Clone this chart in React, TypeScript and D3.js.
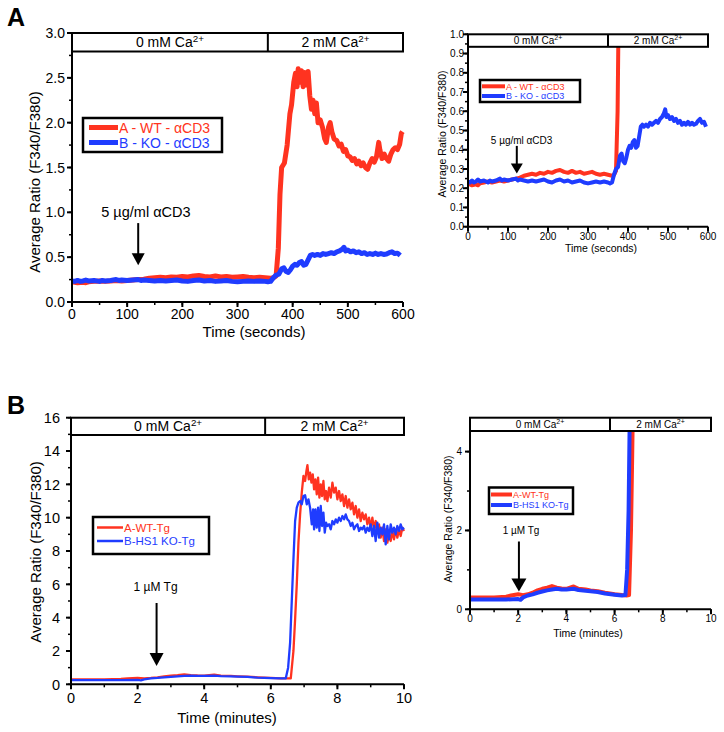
import React from 'react';
import * as d3 from 'd3';

type Pt = [number, number];

const RED = '#ff3320';
const BLUE = '#1f3cff';
const FONT = '"Liberation Sans", Arial, Helvetica, sans-serif';

// ---------- Panel A data (time in seconds, ratio) ----------
const aWT: Pt[] = [
  [0, 0.23], [5, 0.22], [10, 0.215], [20, 0.22], [25, 0.215], [30, 0.225], [40, 0.23], [50, 0.235],
  [60, 0.23], [70, 0.235], [80, 0.24], [90, 0.235], [100, 0.24], [110, 0.245], [120, 0.25], [130, 0.255],
  [140, 0.265], [150, 0.27], [160, 0.275], [170, 0.27], [180, 0.28], [190, 0.275], [200, 0.285], [210, 0.28],
  [220, 0.29], [230, 0.295], [240, 0.285], [250, 0.28], [260, 0.29], [270, 0.28], [280, 0.285], [290, 0.275],
  [300, 0.28], [310, 0.285], [320, 0.275], [330, 0.27], [340, 0.275], [350, 0.27], [360, 0.265], [365, 0.27],
  [370, 0.29], [374, 0.6], [377, 1.2], [380, 1.5], [385, 1.55], [390, 1.75], [395, 2.1], [398, 2.2],
  [402, 2.45], [405, 2.55], [408, 2.4], [410, 2.6], [413, 2.45], [416, 2.58], [419, 2.4], [422, 2.56],
  [425, 2.42], [428, 2.57], [431, 2.3], [434, 2.15], [437, 2.25], [440, 2.1], [443, 2.22], [446, 2.0],
  [450, 2.03], [454, 1.95], [458, 1.82], [461, 1.78], [465, 1.95], [468, 2.0], [471, 1.9], [475, 1.82],
  [480, 1.8], [484, 1.74], [488, 1.76], [492, 1.68], [496, 1.7], [500, 1.63], [504, 1.62], [508, 1.58],
  [512, 1.6], [516, 1.54], [520, 1.57], [524, 1.52], [528, 1.55], [532, 1.5], [536, 1.48], [540, 1.55],
  [544, 1.6], [548, 1.56], [552, 1.62], [556, 1.78], [558, 1.7], [562, 1.6], [566, 1.65], [570, 1.6],
  [574, 1.57], [578, 1.65], [582, 1.7], [586, 1.72], [590, 1.7], [594, 1.76], [597, 1.88], [599, 1.9],
];

const aKO: Pt[] = [
  [0, 0.235], [5, 0.23], [10, 0.24], [15, 0.23], [20, 0.235], [25, 0.245], [30, 0.235], [40, 0.24],
  [50, 0.23], [55, 0.24], [60, 0.235], [70, 0.24], [80, 0.25], [85, 0.24], [90, 0.245], [100, 0.24],
  [110, 0.245], [120, 0.25], [125, 0.24], [130, 0.245], [140, 0.24], [150, 0.235], [160, 0.24], [170, 0.235],
  [180, 0.24], [190, 0.245], [200, 0.235], [210, 0.23], [220, 0.24], [230, 0.245], [240, 0.235], [250, 0.24],
  [260, 0.23], [270, 0.235], [280, 0.24], [290, 0.23], [300, 0.225], [310, 0.23], [320, 0.235], [330, 0.23],
  [340, 0.235], [350, 0.23], [355, 0.225], [360, 0.23], [365, 0.27], [370, 0.3], [375, 0.31], [380, 0.37],
  [384, 0.38], [388, 0.34], [392, 0.33], [396, 0.36], [400, 0.4], [404, 0.42], [408, 0.41], [412, 0.44],
  [416, 0.45], [420, 0.41], [424, 0.42], [428, 0.47], [432, 0.52], [436, 0.53], [440, 0.52], [445, 0.53],
  [450, 0.52], [455, 0.54], [460, 0.53], [465, 0.54], [470, 0.55], [475, 0.54], [480, 0.56], [485, 0.57],
  [490, 0.59], [493, 0.61], [496, 0.57], [500, 0.58], [505, 0.56], [510, 0.57], [515, 0.55], [520, 0.56],
  [525, 0.54], [530, 0.55], [535, 0.53], [540, 0.54], [545, 0.53], [550, 0.545], [555, 0.53], [560, 0.54],
  [565, 0.53], [570, 0.535], [575, 0.55], [580, 0.56], [585, 0.54], [590, 0.545], [595, 0.52],
];

// ---------- Panel B data (time in minutes, ratio) ----------
const bWT: Pt[] = [
  [0, 0.3], [0.5, 0.3], [1.0, 0.3], [1.5, 0.32], [1.7, 0.35], [2.0, 0.38], [2.2, 0.36], [2.4, 0.38],
  [2.6, 0.42], [2.8, 0.48], [3.0, 0.52], [3.2, 0.55], [3.4, 0.59], [3.6, 0.55], [3.8, 0.53], [4.0, 0.52],
  [4.3, 0.58], [4.5, 0.52], [4.8, 0.5], [5.0, 0.48], [5.3, 0.46], [5.6, 0.42], [6.0, 0.38], [6.3, 0.36],
  [6.5, 0.35], [6.6, 0.36], [6.68, 2.0], [6.73, 3.9], [6.78, 6.0], [6.83, 8.5], [6.88, 10.2], [6.93, 11.5],
  [6.98, 12.5], [7.03, 12.2], [7.07, 12.8], [7.1, 13.15], [7.14, 12.3], [7.18, 12.7], [7.22, 12.1], [7.26, 12.6],
  [7.3, 11.7], [7.34, 12.3], [7.38, 11.4], [7.42, 12.4], [7.46, 11.2], [7.5, 12.0], [7.54, 11.3], [7.58, 12.2],
  [7.62, 11.1], [7.66, 11.6], [7.7, 11.0], [7.75, 11.8], [7.8, 11.2], [7.85, 12.1], [7.9, 11.5], [7.95, 11.8],
  [8.0, 11.1], [8.05, 11.6], [8.1, 11.0], [8.15, 11.4], [8.2, 10.7], [8.25, 11.3], [8.3, 10.6], [8.35, 11.1],
  [8.4, 10.5], [8.45, 10.9], [8.5, 10.2], [8.55, 10.7], [8.6, 10.0], [8.65, 10.5], [8.7, 9.8], [8.75, 10.3],
  [8.8, 9.9], [8.85, 10.2], [8.9, 9.6], [8.95, 10.0], [9.0, 9.4], [9.05, 10.0], [9.1, 9.3], [9.15, 9.8],
  [9.2, 9.1], [9.25, 9.6], [9.3, 8.8], [9.35, 9.4], [9.4, 8.6], [9.45, 9.3], [9.5, 8.5], [9.55, 9.0],
  [9.6, 8.6], [9.65, 9.2], [9.7, 8.7], [9.75, 9.3], [9.8, 8.8], [9.85, 9.3], [9.9, 8.9], [9.95, 9.4], [10.0, 9.2],
];

const bKO: Pt[] = [
  [0, 0.25], [0.5, 0.25], [1.0, 0.25], [1.5, 0.25], [2.0, 0.26], [2.1, 0.24], [2.2, 0.3], [2.4, 0.35],
  [2.6, 0.38], [2.8, 0.42], [3.0, 0.45], [3.2, 0.48], [3.4, 0.5], [3.6, 0.52], [3.8, 0.5], [4.0, 0.5],
  [4.3, 0.52], [4.5, 0.49], [4.8, 0.47], [5.0, 0.46], [5.3, 0.44], [5.6, 0.4], [6.0, 0.37], [6.3, 0.35],
  [6.45, 0.36], [6.52, 1.0], [6.58, 2.5], [6.63, 5.0], [6.68, 7.5], [6.73, 9.8], [6.78, 10.6], [6.83, 10.9],
  [6.88, 11.0], [6.93, 10.8], [6.98, 11.3], [7.03, 11.35], [7.08, 10.8], [7.13, 11.1], [7.18, 10.6], [7.23, 9.6],
  [7.27, 10.5], [7.3, 9.3], [7.34, 10.5], [7.38, 9.4], [7.42, 10.6], [7.46, 9.2], [7.5, 10.7], [7.54, 9.5],
  [7.58, 10.3], [7.62, 9.1], [7.66, 9.7], [7.7, 9.5], [7.75, 9.6], [7.8, 9.3], [7.85, 9.8], [7.9, 9.6],
  [7.95, 9.9], [8.0, 9.7], [8.05, 10.0], [8.1, 9.8], [8.15, 10.1], [8.2, 9.9], [8.25, 10.2], [8.3, 9.9],
  [8.35, 9.8], [8.4, 9.5], [8.45, 9.7], [8.5, 9.3], [8.55, 9.5], [8.6, 9.6], [8.65, 9.2], [8.7, 9.4],
  [8.75, 9.3], [8.8, 9.5], [8.85, 9.1], [8.9, 9.4], [8.95, 9.2], [9.0, 9.6], [9.05, 8.9], [9.1, 9.5],
  [9.15, 8.6], [9.2, 9.7], [9.25, 8.8], [9.3, 9.4], [9.35, 9.0], [9.4, 9.6], [9.45, 8.4], [9.5, 9.5],
  [9.55, 8.7], [9.6, 9.6], [9.65, 9.1], [9.7, 9.4], [9.75, 9.0], [9.8, 9.5], [9.85, 9.2], [9.9, 9.6],
  [9.95, 9.3], [10.0, 9.4],
];

// ---------- Tick labels & text ----------
const secTicks = [0, 100, 200, 300, 400, 500, 600];
const minTicks = [0, 2, 4, 6, 8, 10];
const aMainYTicks = [0, 0.5, 1.0, 1.5, 2.0, 2.5, 3.0];
const aInsetYTicks = [0, 0.1, 0.2, 0.3, 0.4, 0.5, 0.6, 0.7, 0.8, 0.9, 1.0];
const bMainYTicks = [0, 2, 4, 6, 8, 10, 12, 14, 16];
const bInsetYTicks = [0, 2, 4];
const aLegend = ['A - WT - \u03B1CD3', 'B - KO - \u03B1CD3'];
const bLegend = ['A-WT-Tg', 'B-HS1 KO-Tg'];
const aNote = '5 \u00B5g/ml \u03B1CD3';
const bNote = '1 \u00B5M Tg';
const yTitle = 'Average Ratio (F340/F380)';
const phases = ['0 mM Ca', '2 mM Ca'];

interface Cfg {
  x0: number; x1: number; y0: number; y1: number;
  xDom: [number, number]; yDom: [number, number];
  xTicks: number[]; yTicks: number[]; xMinor: number; yMinor: number;
  yFmt: (v: number) => string;
  headerH: number; divider: number; headerFont: number;
  lineW: number; tickFont: number; titleFont: number;
  yLabelX: number; xLabelY: number;
  xTitle: string; xTitleX: number; xTitleY: number; yTitleX: number; yTitleY: number;
  red: Pt[]; blue: Pt[];
  legend: string[]; legBox: [number, number, number, number]; legRows: [number, number];
  legLine: [number, number]; legFont: number; legLineW: number;
  note: string; noteX: number; noteV: number; noteFont: number;
  arrowT: number; arrowTop: number; arrowBot: number; headW: number; headH: number;
  id: string;
}

function Panel({ c }: { c: Cfg }) {
  const x = d3.scaleLinear().domain(c.xDom).range([c.x0, c.x1]);
  const y = d3.scaleLinear().domain(c.yDom).range([c.y0, c.y1]);
  const line = d3.line<Pt>().x(d => x(d[0])).y(d => y(d[1])).curve(d3.curveLinear);
  const xMinorTicks = d3.range(c.xDom[0], c.xDom[1] + 1e-9, c.xMinor);
  const yMinorTicks = d3.range(c.yDom[0], c.yDom[1] + 1e-9, c.yMinor);
  const hb = c.y1 + c.headerH;
  const dx = x(c.divider);
  const ax = x(c.arrowT);
  const aTop = y(c.arrowTop);
  const aBot = y(c.arrowBot);
  const [bx, by, bw, bh] = c.legBox;
  const sup = (txt: string, cx: number) => (
    <text x={cx} y={c.y1 + c.headerH * 0.78} textAnchor="middle" fontSize={c.headerFont} fontFamily={FONT}>
      <tspan>{txt}</tspan>
      <tspan dy={-c.headerFont * 0.4} fontSize={c.headerFont * 0.7}>2+</tspan>
    </text>
  );
  return (
    <g>
      <defs>
        <clipPath id={c.id}>
          <rect x={c.x0} y={hb} width={c.x1 - c.x0 + 3} height={c.y0 - hb} />
        </clipPath>
      </defs>
      <g clipPath={`url(#${c.id})`}>
        <path d={line(c.red) || ''} fill="none" stroke={RED} strokeWidth={c.lineW} strokeLinejoin="round" />
        <path d={line(c.blue) || ''} fill="none" stroke={BLUE} strokeWidth={c.lineW} strokeLinejoin="round" />
      </g>
      {/* header band */}
      <rect x={c.x0} y={c.y1} width={c.x1 - c.x0} height={c.headerH} fill="white" stroke="black" strokeWidth={2} />
      <line x1={dx} x2={dx} y1={c.y1} y2={hb} stroke="black" strokeWidth={2} />
      {sup(phases[0], (c.x0 + dx) / 2)}
      {sup(phases[1], (dx + c.x1) / 2)}
      {/* axes */}
      <line x1={c.x0} x2={c.x0} y1={c.y0} y2={c.y1} stroke="black" strokeWidth={2} />
      <line x1={c.x0} x2={c.x1} y1={c.y0} y2={c.y0} stroke="black" strokeWidth={2} />
      {xMinorTicks.map((t, i) => (
        <line key={'xm' + i} x1={x(t)} x2={x(t)} y1={c.y0} y2={c.y0 + 3} stroke="black" strokeWidth={1.5} />
      ))}
      {yMinorTicks.map((t, i) => (
        <line key={'ym' + i} x1={c.x0 - 3} x2={c.x0} y1={y(t)} y2={y(t)} stroke="black" strokeWidth={1.5} />
      ))}
      {c.xTicks.map((t, i) => (
        <g key={'xt' + i}>
          <line x1={x(t)} x2={x(t)} y1={c.y0} y2={c.y0 + 5} stroke="black" strokeWidth={2} />
          <text x={x(t)} y={c.xLabelY} textAnchor="middle" fontSize={c.tickFont} fontFamily={FONT}>{t}</text>
        </g>
      ))}
      {c.yTicks.map((t, i) => (
        <g key={'yt' + i}>
          <line x1={c.x0 - 5} x2={c.x0} y1={y(t)} y2={y(t)} stroke="black" strokeWidth={2} />
          <text x={c.yLabelX} y={y(t)} dy="0.36em" textAnchor="end" fontSize={c.tickFont} fontFamily={FONT}>{c.yFmt(t)}</text>
        </g>
      ))}
      <text x={c.xTitleX} y={c.xTitleY} textAnchor="middle" fontSize={c.titleFont} fontFamily={FONT}>{c.xTitle}</text>
      <text transform={`translate(${c.yTitleX},${c.yTitleY}) rotate(-90)`} textAnchor="middle" dy="0.36em"
        fontSize={c.titleFont} fontFamily={FONT}>{yTitle}</text>
      {/* legend */}
      <rect x={bx} y={by} width={bw} height={bh} fill="white" stroke="black" strokeWidth={2.5} />
      {c.legend.map((s, i) => (
        <g key={'lg' + i}>
          <line x1={c.legLine[0]} x2={c.legLine[1]} y1={c.legRows[i]} y2={c.legRows[i]}
            stroke={i === 0 ? RED : BLUE} strokeWidth={c.legLineW} />
          <text x={c.legLine[1] + 1} y={c.legRows[i]} dy="0.36em" fontSize={c.legFont} fontFamily={FONT}
            fill={i === 0 ? RED : BLUE}>{s}</text>
        </g>
      ))}
      {/* annotation */}
      <text x={x(c.noteX)} y={y(c.noteV)} textAnchor="middle" fontSize={c.noteFont} fontFamily={FONT}>{c.note}</text>
      <line x1={ax} x2={ax} y1={aTop} y2={aBot - c.headH + 1} stroke="black" strokeWidth={2} />
      <polygon points={`${ax - c.headW / 2},${aBot - c.headH} ${ax + c.headW / 2},${aBot - c.headH} ${ax},${aBot}`} fill="black" />
    </g>
  );
}

const f1 = d3.format('.1f');
const f0 = (v: number) => String(v);

const panels: Cfg[] = [
  {
    id: 'cA1', x0: 72, x1: 403, y0: 302, y1: 33, xDom: [0, 600], yDom: [0, 3],
    xTicks: secTicks, yTicks: aMainYTicks, xMinor: 50, yMinor: 0.25, yFmt: f1,
    headerH: 18.5, divider: 355, headerFont: 14, lineW: 5, tickFont: 14, titleFont: 15,
    yLabelX: 65, xLabelY: 319, xTitle: 'Time (seconds)', xTitleX: 254, xTitleY: 337, yTitleX: 35, yTitleY: 182,
    red: aWT, blue: aKO, legend: aLegend, legBox: [83, 118, 139, 34], legRows: [127.5, 142.5],
    legLine: [89, 118], legFont: 14, legLineW: 5,
    note: aNote, noteX: 134, noteV: 0.95, noteFont: 14.5,
    arrowT: 120, arrowTop: 0.88, arrowBot: 0.41, headW: 13, headH: 12,
  },
  {
    id: 'cA2', x0: 468, x1: 708, y0: 226.7, y1: 34.3, xDom: [0, 600], yDom: [0, 1],
    xTicks: secTicks, yTicks: aInsetYTicks, xMinor: 50, yMinor: 0.05, yFmt: f1,
    headerH: 12.5, divider: 350, headerFont: 10, lineW: 4, tickFont: 10, titleFont: 10.5,
    yLabelX: 464, xLabelY: 240, xTitle: 'Time (seconds)', xTitleX: 601, xTitleY: 252, yTitleX: 442, yTitleY: 134,
    red: aWT, blue: aKO, legend: aLegend, legBox: [480, 80, 100, 22], legRows: [86.3, 96],
    legLine: [482, 505], legFont: 9, legLineW: 4,
    note: aNote, noteX: 134, noteV: 0.43, noteFont: 10,
    arrowT: 122, arrowTop: 0.42, arrowBot: 0.277, headW: 12, headH: 10,
  },
  {
    id: 'cB1', x0: 71, x1: 404, y0: 684.3, y1: 417.7, xDom: [0, 10], yDom: [0, 16],
    xTicks: minTicks, yTicks: bMainYTicks, xMinor: 1, yMinor: 1, yFmt: f0,
    headerH: 17.3, divider: 5.83, headerFont: 14, lineW: 2.3, tickFont: 14.5, titleFont: 15,
    yLabelX: 60, xLabelY: 703, xTitle: 'Time (minutes)', xTitleX: 227, xTitleY: 723, yTitleX: 36, yTitleY: 552,
    red: bWT, blue: bKO, legend: bLegend, legBox: [93, 517, 116, 37], legRows: [527.5, 541],
    legLine: [97, 123], legFont: 11.5, legLineW: 2.5,
    note: bNote, noteX: 2.54, noteV: 5.6, noteFont: 12,
    arrowT: 2.57, arrowTop: 4.88, arrowBot: 1.1, headW: 14, headH: 13,
  },
  {
    id: 'cB2', x0: 470, x1: 711, y0: 609.3, y1: 417.7, xDom: [0, 10], yDom: [0, 4.86],
    xTicks: minTicks, yTicks: bInsetYTicks, xMinor: 1, yMinor: 1, yFmt: f0,
    headerH: 13.3, divider: 5.81, headerFont: 10, lineW: 4, tickFont: 10, titleFont: 10.5,
    yLabelX: 462, xLabelY: 622, xTitle: 'Time (minutes)', xTitleX: 588, xTitleY: 637, yTitleX: 448, yTitleY: 519,
    red: bWT, blue: bKO, legend: bLegend, legBox: [489, 487.5, 84, 26.5], legRows: [494.5, 505],
    legLine: [491, 512], legFont: 9, legLineW: 4,
    note: bNote, noteX: 2.12, noteV: 1.91, noteFont: 10,
    arrowT: 2.03, arrowTop: 1.72, arrowBot: 0.45, headW: 15, headH: 13,
  },
];

export default function App() {
  return (
    <svg width={724} height={732} viewBox="0 0 724 732"
      style={{ position: 'absolute', left: 0, top: 0, background: 'white' }}>
      <rect width={724} height={732} fill="white" />
      <text x={7} y={26} fontSize={25} fontWeight="bold" fontFamily={FONT}>A</text>
      <text x={7} y={414} fontSize={25} fontWeight="bold" fontFamily={FONT}>B</text>
      {panels.map(p => <Panel key={p.id} c={p} />)}
    </svg>
  );
}
